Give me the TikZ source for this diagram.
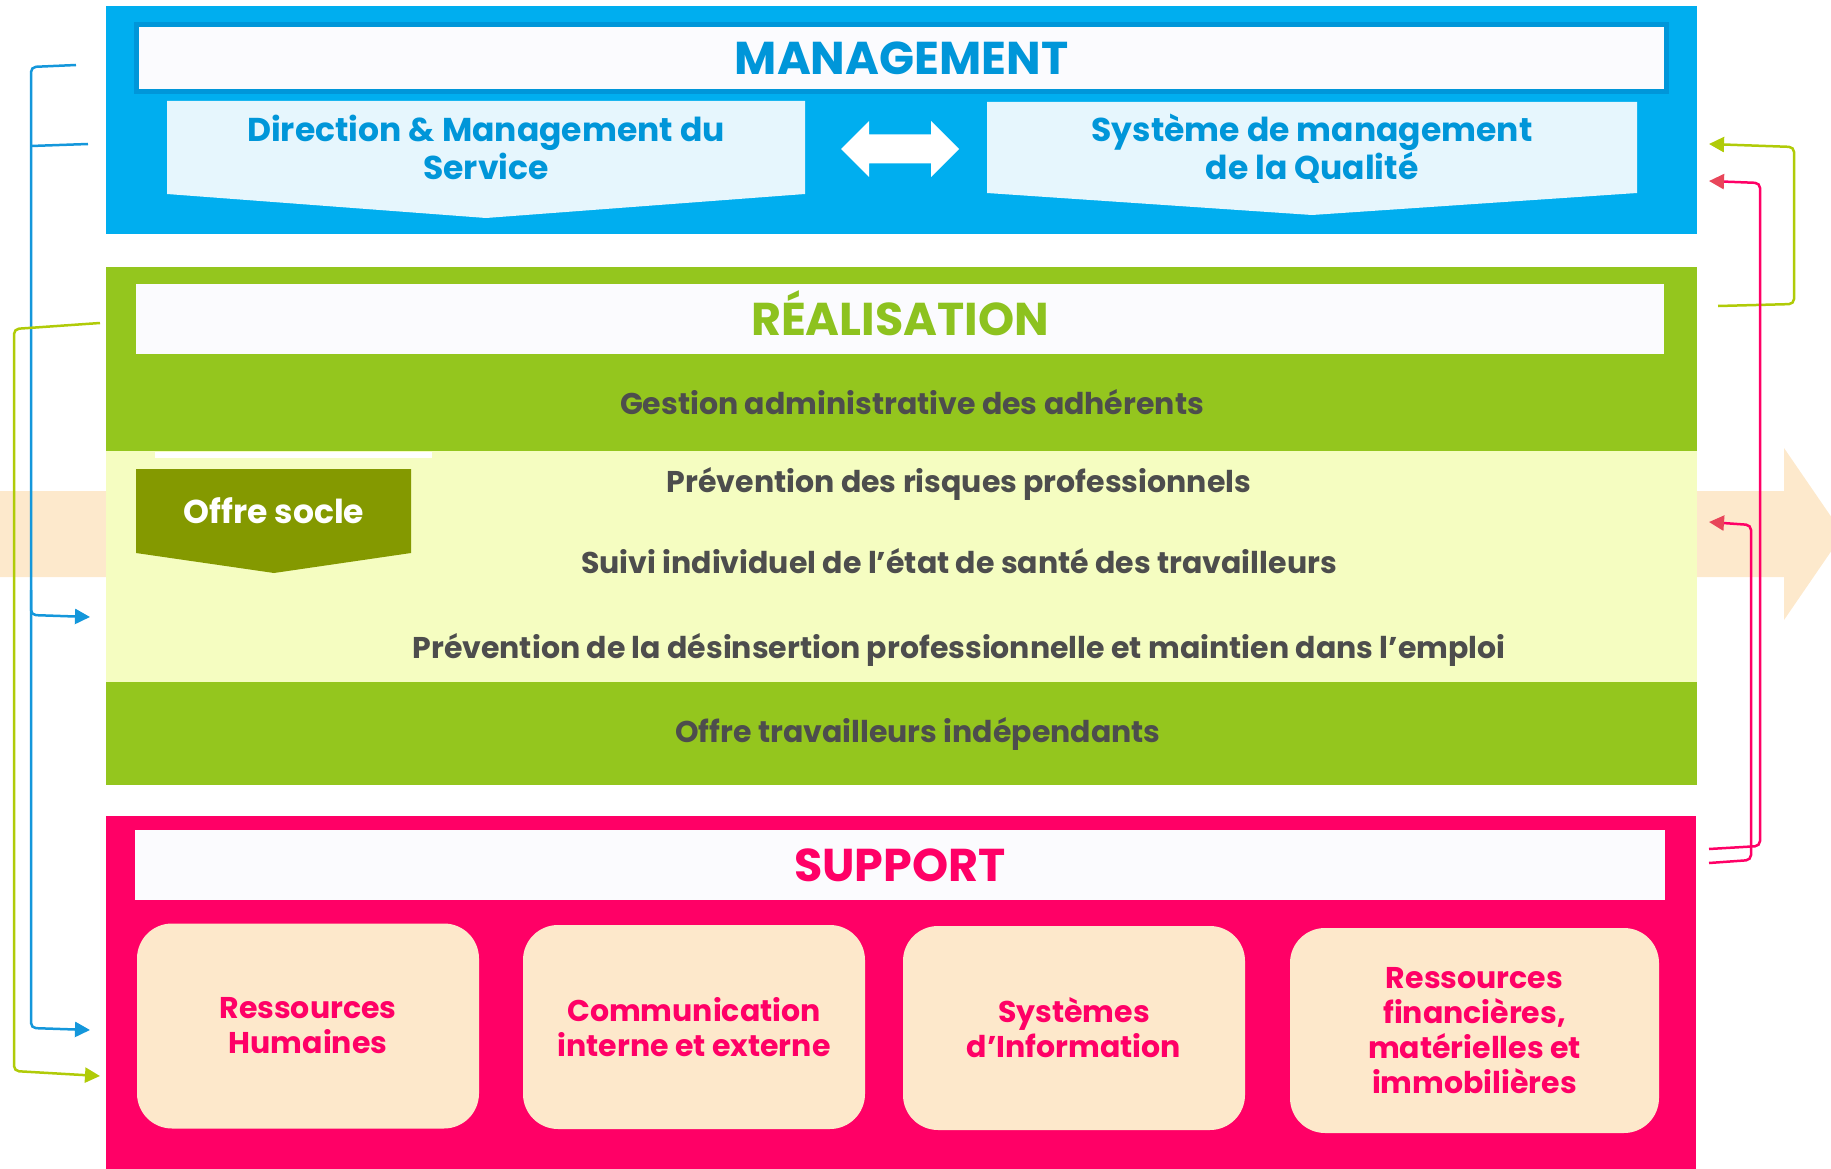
\documentclass[tikz,border=0pt]{standalone}
\usepackage{fontspec}
\setmainfont{Poppins}
\usetikzlibrary{arrows.meta}
\definecolor{mblue}{HTML}{00AEEF}
\definecolor{mdark}{HTML}{0096D9}
\definecolor{mlight}{HTML}{E6F6FD}
\definecolor{wbar}{HTML}{FBFBFE}
\definecolor{rgreen}{HTML}{94C61E}
\definecolor{rgtext}{HTML}{8DC21F}
\definecolor{ryellow}{HTML}{F5FDC1}
\definecolor{olive}{HTML}{849900}
\definecolor{greytxt}{HTML}{4D4D4D}
\definecolor{peach}{HTML}{FDE9CC}
\definecolor{spink}{HTML}{FF0066}
\definecolor{sbox}{HTML}{FDE8CB}
\definecolor{bluec}{HTML}{1497DB}
\definecolor{greenc}{HTML}{B0CB08}
\definecolor{redtip}{HTML}{E8465A}
\tikzset{
  block/.style={inner sep=0pt, outer sep=0pt, draw=none},
  titlebar/.style={block, fill=wbar, text height=33pt, text depth=0pt, font=\fontsize{46}{52}\selectfont\bfseries},
  subtxt/.style={align=center, text=mdark, font=\fontsize{33}{38}\selectfont\bfseries},
  greytext/.style={text=greytxt, text height=22pt, text depth=6pt, inner sep=0pt, font=\fontsize{30}{35}\selectfont\bfseries},
  supbox/.style={block, fill=sbox, rounded corners=35pt, text=spink, align=center, font=\fontsize{30}{35}\selectfont\bfseries},
  conn/.style={line width=2.5pt, rounded corners=5pt},
  tipb/.style={-{Triangle[length=15pt,width=15pt]}},
}
\begin{document}
\begin{tikzpicture}[x=1pt,y=-1pt]
\useasboundingbox (0,0) rectangle (1831,1169);
\clip (0,0) rectangle (1831,1169);
% big peach arrow in background
\fill[peach] (0,491) -- (1784,491) -- (1784,448) -- (1843,534) -- (1784,620) -- (1784,577) -- (0,577) -- cycle;

% ===== MANAGEMENT =====
\node[block, fill=mblue, minimum width=1591pt, minimum height=228pt] (mgmt) at (901.5,120) {};
\node[titlebar, draw=mdark, line width=5pt, minimum width=1530pt, minimum height=67pt, text=mdark] (mtitle) at (901.5,58) {MANAGEMENT};
\fill[mlight] (167,101) -- (805,101) -- (805,194) -- (486,218) -- (167,194) -- cycle;
\node[subtxt] (dir) at (486,147) {Direction \& Management du\\Service};
\fill[mlight] (987,102) -- (1637,102) -- (1637,193) -- (1312,215) -- (987,193) -- cycle;
\node[subtxt] (smq) at (1312,149) {Système de management\\de la Qualité};
\fill[white] (841,149) -- (869,121) -- (869,134.5) -- (931,134.5) -- (931,121) -- (959,149) -- (931,177) -- (931,163.5) -- (869,163.5) -- (869,177) -- cycle;
\node[block] (dbl) at (900,149) {};

% ===== REALISATION =====
\node[block, fill=rgreen, minimum width=1591pt, minimum height=518pt] (real) at (901.5,526) {};
\node[block, fill=ryellow, minimum width=1591pt, minimum height=231pt] (yel) at (901.5,566.5) {};
\fill[white] (155,452) rectangle (432,458);
\node[titlebar, minimum width=1528pt, minimum height=70pt, text=rgtext] (rtitle) at (900,319) {RÉALISATION};
\node[greytext] (gest) at (912,406) {Gestion administrative des adhérents};
\fill[olive] (136,469) -- (411,469) -- (411,553) -- (274,573) -- (136,553) -- cycle;
\node[text=white, text height=23pt, text depth=0pt, inner sep=0pt, font=\fontsize{33}{38}\selectfont\bfseries] (socle) at (274,512) {Offre socle};
\node[greytext] (prev) at (959,484) {Prévention des risques professionnels};
\node[greytext] (suivi) at (959,565) {Suivi individuel de l’état de santé des travailleurs};
\node[greytext] (desins) at (959,650) {Prévention de la désinsertion professionnelle et maintien dans l’emploi};
\node[greytext] (indep) at (918,734) {Offre travailleurs indépendants};

% ===== SUPPORT =====
\node[block, fill=spink, minimum width=1590pt, minimum height=360pt] (supp) at (901,996) {};
\node[titlebar, minimum width=1530pt, minimum height=70pt, text=spink] (stitle) at (900,865) {SUPPORT};
\node[supbox, minimum width=342pt, minimum height=205pt] (rh) at (308,1026) {Ressources\\Humaines};
\node[supbox, minimum width=342pt, minimum height=204pt] (com) at (694,1027) {Communication\\interne et externe};
\node[supbox, minimum width=342pt, minimum height=204pt] (si) at (1074,1028) {Systèmes\\d’Information};
\node[supbox, minimum width=369pt, minimum height=205pt] (rf) at (1474.5,1030.5) {Ressources\\financières,\\matérielles et\\immobilières};

% ===== connectors =====
\coordinate (bA) at (76,65);
\coordinate (bB) at (88,144);
\coordinate (bR) at (90,617);
\coordinate (bS) at (90,1030);
\draw[conn, bluec, tipb] (bA) -- (31,67) -- (31,1028) -- (bS);
\draw[conn, bluec] (bB) -- (31,146);
\draw[conn, bluec, tipb] (31,590) -- (31,615) -- (bR);

\coordinate (gA) at (100,323);
\coordinate (gS) at (100,1076);
\draw[conn, greenc, tipb] (gA) -- (14,329) -- (14,1071) -- (gS);

\coordinate (gR) at (1718,306);
\coordinate (gM) at (1709,144);
\draw[conn, greenc, tipb] (gR) -- (1794,304) -- (1794,147) -- (gM);

\coordinate (pS1) at (1709,849);
\coordinate (pM) at (1709,181);
\draw[conn, spink, -{Triangle[length=15pt,width=15pt,color=redtip]}] (pS1) -- (1760,846) -- (1760,183) -- (pM);
\coordinate (pS2) at (1709,863);
\coordinate (pR) at (1709,522);
\draw[conn, spink, -{Triangle[length=15pt,width=15pt,color=redtip]}] (pS2) -- (1751,860) -- (1751,525) -- (pR);
\end{tikzpicture}
\end{document}
